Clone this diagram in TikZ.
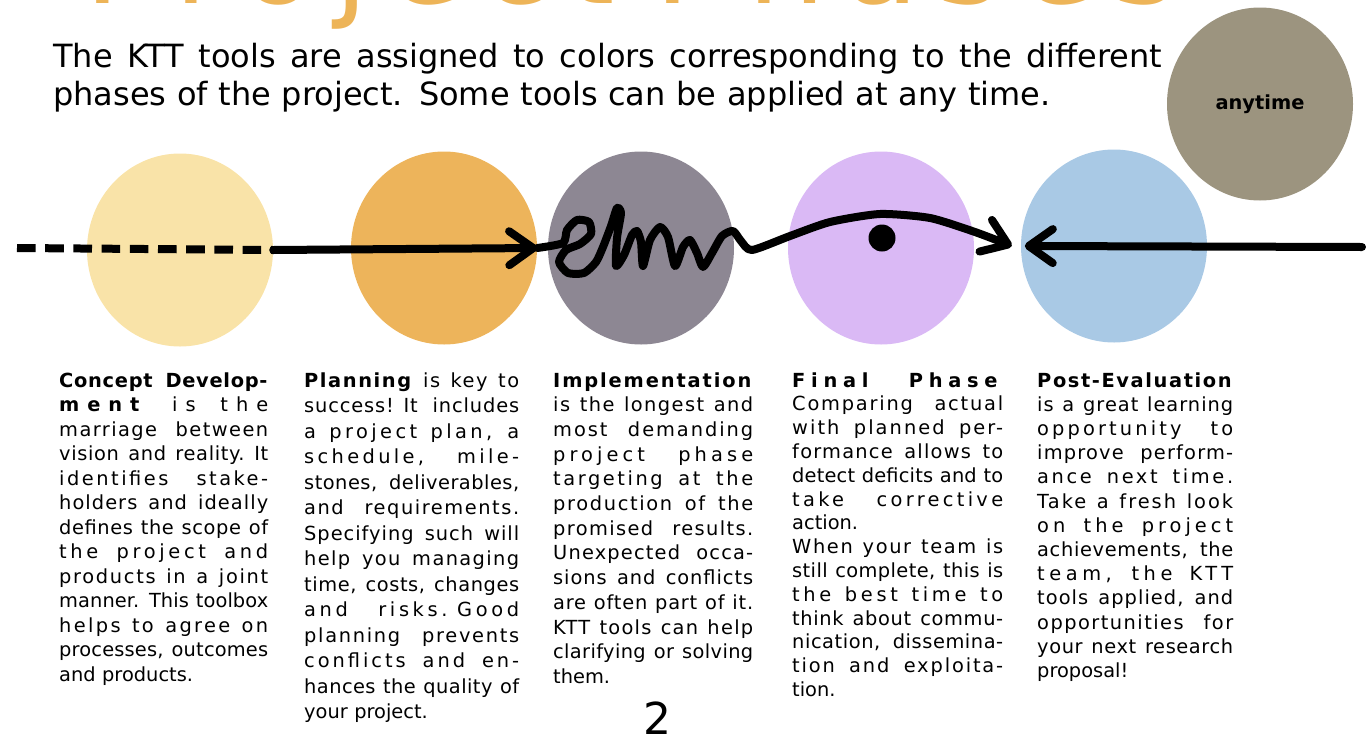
\documentclass[tikz,border=0pt]{standalone}
\usepackage{fontspec}
\setmainfont{DejaVu Sans}
\usetikzlibrary{shapes.geometric,arrows.meta}
\definecolor{conceptcol}{HTML}{F9E3A8}
\definecolor{planningcol}{HTML}{EDB45B}
\definecolor{implementcol}{HTML}{8D8793}
\definecolor{finalcol}{HTML}{DAB9F5}
\definecolor{postcol}{HTML}{A9C9E5}
\definecolor{anytimecol}{HTML}{9C947F}
\definecolor{titlecol}{HTML}{EDB458}
\tikzset{
phase/.style={ellipse, inner sep=0pt, minimum width=186pt, minimum height=193pt},
thickline/.style={line width=8pt, line cap=round, line join=round},
column/.style 2 args={anchor=base west, inner sep=0pt, text width=#1,
	font=\fontsize{19.4}{#2}\selectfont}
}
\newsavebox\lsbox
\newcommand{\jl}[2][0.6]{%
	\sbox\lsbox{\spaceskip=.32em\relax #2}\edef\wnat{\the\wd\lsbox}%
	\sbox\lsbox{\addfontfeature{LetterSpace=10}\spaceskip=.32em\relax #2}\edef\wls{\the\wd\lsbox}%
	\edef\lsval{\fpeval{round(10*(\linewidth-\wnat)/max(\wls-\wnat,0.01)*((\linewidth>\wnat)?#1:1),2)}}%
	\makebox[\linewidth][s]{\addfontfeature{LetterSpace=\lsval}\spaceskip=.32em plus 1fil\relax #2}\par}
\newcommand{\el}[1]{#1\par}

\begin{document}
\begin{tikzpicture}[x=1pt, y=-1pt, >={Straight Barb[length=24pt,width=34pt,round]}]
	\useasboundingbox (0,0) rectangle (1366,737);
	\node[phase, fill=conceptcol] (concept) at (180,250) {};
	\node[phase, fill=planningcol] (planning) at (444,248) {};
	\node[phase, fill=implementcol] (implement) at (641,248) {};
	\node[phase, fill=finalcol] (final) at (881,248) {};
	\node[phase, fill=postcol] (post) at (1114,246) {};
	\node[phase, fill=anytimecol, font=\bfseries\fontsize{19.4}{20}\selectfont] (anytime) at (1260,104) {anytime};

	\node[anchor=base west, inner sep=0pt, text width=1094pt, text=titlecol,
		font=\fontsize{124}{126}\selectfont] (title) at (84,3.5) {\jl[1]{Project Phases}};
	\node[anchor=base west, inner sep=0pt, text width=1109pt,
		font=\fontsize{32}{38.5}\selectfont] (subtitle) at (53,67.3) {%
		\jl[0]{The KTT tools are assigned to colors corresponding to the different}
		\el{phases of the project. Some tools can be applied at any time.}};

	\coordinate (leftend) at (17,248);
	\coordinate (rightend) at (1362,247);
	\draw[line width=8pt, dash pattern=on 18.6pt off 9.6pt] (leftend) -- (concept.east);
	\draw[thickline, ->] (concept.east) -- (planning.east);
	\draw[thickline, ->] plot[smooth, tension=0.4] coordinates {(planning.east) (563,243)
		(567,230) (577,220) (589,222) (591,234) (580,244) (566,250) (559,262) (568,273)
		(584,273) (596,262) (603,247) (611,226) (617,208) (621,213) (617,238) (616,266)
		(624,255) (632,235) (637,231) (641,242) (643,266) (650,240) (660,227) (668,237)
		(675,266) (683,247) (690,240) (697,253) (703,267) (712,253) (722,236) (733,231)
		(741,241) (752,250) (790,236) (830,222) (880,214) (930,218) (975,232)
		([xshift=-9pt]post.west)};
	\fill (882,238) circle (13.5pt);
	\draw[thickline, ->] (rightend) -- ([xshift=4pt]post.west);

	\node[column={209pt}{24.5}] (conceptText) at (59,387) {%
		\jl{\textbf{Concept Develop-}}
		\jl{\textbf{ment} is the}
		\jl{marriage between}
		\jl{vision and reality. It}
		\jl{identifies stake-}
		\jl{holders and ideally}
		\jl{defines the scope of}
		\jl{the project and}
		\jl{products in a joint}
		\jl{manner. This toolbox}
		\jl{helps to agree on}
		\jl{processes, outcomes}
		\el{and products.}};
	\node[column={215pt}{25.5}] (planningText) at (304,387) {%
		\jl{\textbf{Planning} is key to}
		\jl{success! It includes}
		\jl{a project plan, a}
		\jl{schedule, mile-}
		\jl{stones, deliverables,}
		\jl{and requirements.}
		\jl{Specifying such will}
		\jl{help you managing}
		\jl{time, costs, changes}
		\jl{and risks. Good}
		\jl{planning prevents}
		\jl{conflicts and en-}
		\jl{hances the quality of}
		\el{your project.}};
	\node[column={200pt}{24.7}] (implementText) at (553,387) {%
		\jl[1]{\textbf{Implementation}}
		\jl{is the longest and}
		\jl{most demanding}
		\jl{project phase}
		\jl{targeting at the}
		\jl{production of the}
		\jl{promised results.}
		\jl{Unexpected occa-}
		\jl{sions and conflicts}
		\jl{are often part of it.}
		\jl{KTT tools can help}
		\jl{clarifying or solving}
		\el{them.}};
	\node[column={211pt}{23.8}] (finalText) at (792,387) {%
		\jl{\textbf{Final Phase}}
		\jl{Comparing actual}
		\jl{with planned per-}
		\jl{formance allows to}
		\jl{detect deficits and to}
		\jl{take corrective}
		\el{action.}
		\jl{When your team is}
		\jl{still complete, this is}
		\jl{the best time to}
		\jl{think about commu-}
		\jl{nication, dissemina-}
		\jl{tion and exploita-}
		\el{tion.}};
	\node[column={196pt}{24.2}] (postText) at (1037,387) {%
		\jl[1]{\textbf{Post-Evaluation}}
		\jl{is a great learning}
		\jl{opportunity to}
		\jl{improve perform-}
		\jl{ance next time.}
		\jl{Take a fresh look}
		\jl{on the project}
		\jl{achievements, the}
		\jl{team, the KTT}
		\jl{tools applied, and}
		\jl{opportunities for}
		\jl{your next research}
		\el{proposal!}};
	\node[anchor=base, inner sep=0pt, font=\fontsize{44}{44}\selectfont] (page) at (657,734) {2};
\end{tikzpicture}
\end{document}
